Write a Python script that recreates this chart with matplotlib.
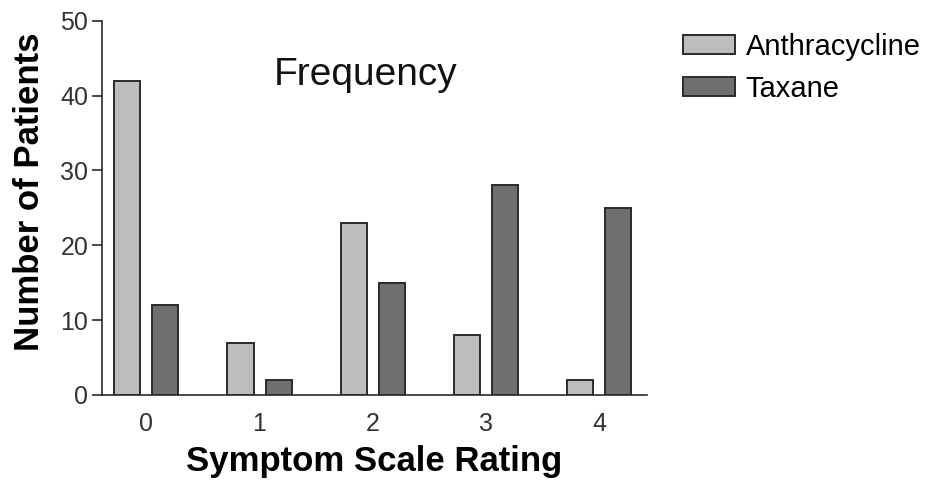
import numpy as np
import matplotlib.pyplot as plt

plt.rcParams['font.family'] = ['Liberation Sans', 'DejaVu Sans']

# data
ratings = [0, 1, 2, 3, 4]
anthracycline = [42, 7, 23, 8, 2]
taxane = [12, 2, 15, 28, 25]
yticks = [0, 10, 20, 30, 40, 50]

edge = "#2b2b2b"
light = "#bdbdbd"
dark = "#6f6f6f"

fig = plt.figure(figsize=(9.29, 4.84), dpi=100)
ax = fig.add_axes([0.110, 0.184, 0.586, 0.773])

x = np.arange(len(ratings))
w = 0.23
off = 0.168
ax.bar(x - off, anthracycline, w, color=light, edgecolor=edge, linewidth=1.4, label="Anthracycline")
ax.bar(x + off, taxane, w, color=dark, edgecolor=edge, linewidth=1.4, label="Taxane")

ax.set_xlim(-0.39, 4.42)
ax.set_ylim(0, 50)
ax.set_xticks(x)
ax.set_xticklabels([str(r) for r in ratings])
ax.set_yticks(yticks)

for s in ["top", "right"]:
    ax.spines[s].set_visible(False)
for s in ["left", "bottom"]:
    ax.spines[s].set_linewidth(1.2)
    ax.spines[s].set_color(edge)

ax.tick_params(axis="x", length=0, pad=12, labelsize=18, labelcolor="#333333")
ax.tick_params(axis="y", length=7, width=1.2, color=edge, pad=3, labelsize=18, labelcolor="#333333")

ax.set_xlabel("Symptom Scale Rating", fontsize=25, fontweight="bold", labelpad=7)
ax.set_ylabel("Number of Patients", fontsize=25, fontweight="bold")
ax.yaxis.set_label_coords(-0.103, 0.543)

ax.text(0.484, 0.856, "Frequency", transform=ax.transAxes, ha="center", va="center",
        fontsize=28, color="#111111")

fig.legend(loc="upper left", bbox_to_anchor=(683 / 929, 1 - 33 / 484), frameon=False,
           fontsize=21, handlelength=1.8, handleheight=0.62, handletextpad=0.35,
           labelspacing=0.47, borderpad=0, borderaxespad=0)

fig.savefig("out.png", dpi=100, facecolor="white")
